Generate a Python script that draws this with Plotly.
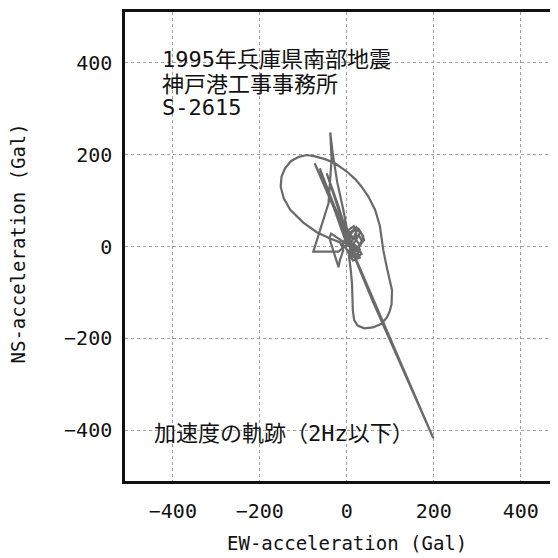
import plotly.graph_objects as go

# Trajectory of acceleration (EW, NS) in Gal
ew = [0, 12, 22, 16, 4, 10, 28, 36, 26, 34, 20, 6, 14,
      2, -8, -22, -32, -38,
      -35, -38, -42, -60, -77,
      -19, -5, 10,
      -74, 199,
      60, 25, 5, -46,
      -20, 0, 18, 30, 20,
      0, -20, -36, -40, -32, -24, -19, -16, -8,
      -15, -40, -69, -100, -130, -145, -152, -150, -142, -128, -110, -92, -73, -50,
      -27, 0, 20, 34, 50, 65, 76, 81, 84, 92, 100, 104, 103, 99, 93, 80, 60, 40,
      25, 17, 14, 13, 12, 9, 5, 8,
      20, 30, 22, 10, -2, -62, 0, 12, 24, 30, 18, 6,
      -6, 2, 18, 32, 40, 30, 16, 26, 38, 28, 10, 0, 14, 30, 22, 4, -10, 6, 20, 12]
ns = [0, 12, 28, 44, 36, 18, 24, 10, -4, -16, -26, -16, -4,
      30, 80, 140, 200, 248,
      190, 140, 94, 40, -11,
      -11, 0, 8,
      181, -417,
      -120, -40, 10, 159,
      90, 30, 18, 4, -8,
      5, 18, 28, 18, -5, -30, -45, -30, -8,
      9, 18, 31, 52, 80, 105, 130, 152, 170, 186, 195, 199, 196, 190,
      181, 163, 146, 130, 108, 80, 45, 15, -8, -45, -80, -95, -125, -140, -153, -168, -176, -178,
      -172, -160, -140, -110, -80, -50, -20, 0,
      12, 30, 42, 28, 10, 170, 15, -12, -18, -6, 4, 0,
      12, 26, 38, 32, 14, 4, 20, 40, 22, -2, -20, -8, -30, -24, -6, 14, 6, -14, -22, 2]

x_ticks = [-400, -200, 0, 200, 400]
y_ticks = [-400, -200, 0, 200, 400]

title_lines = ["1995年兵庫県南部地震", "神戸港工事事務所", "S-2615"]
title_y = [406, 352, 303]
note_text = "加速度の軌跡（2Hz以下）"
x_title = "EW-acceleration (Gal)"
y_title = "NS-acceleration (Gal)"

FONT = "DejaVu Sans Mono, Noto Sans CJK JP, sans-serif"

fig = go.Figure()
fig.add_trace(go.Scatter(x=ew, y=ns, mode="lines",
                         line=dict(color="#6a6a6a", width=2.2),
                         hoverinfo="skip", showlegend=False))

annotations = []
for txt, yy in zip(title_lines, title_y):
    annotations.append(dict(x=-429, y=yy, xref="x", yref="y", text=txt,
                            showarrow=False, xanchor="left", yanchor="middle",
                            font=dict(family=FONT, size=22, color="#111111")))
annotations.append(dict(x=-448, y=-407, xref="x", yref="y", text=note_text,
                        showarrow=False, xanchor="left", yanchor="middle",
                        font=dict(family=FONT, size=22, color="#111111")))
annotations.append(dict(x=0, y=0, xref="x", yref="paper", text=x_title,
                        showarrow=False, xanchor="center", yanchor="middle",
                        yshift=-62, font=dict(family=FONT, size=19, color="#111111")))
annotations.append(dict(x=0, y=0, xref="paper", yref="y", text=y_title,
                        showarrow=False, xanchor="center", yanchor="middle",
                        xshift=-108, yshift=3, textangle=-90,
                        font=dict(family=FONT, size=19, color="#111111")))

fig.update_layout(
    width=550, height=550,
    margin=dict(l=117, r=0, t=4, b=77),
    paper_bgcolor="white", plot_bgcolor="white",
    annotations=annotations,
    font=dict(family=FONT, size=20, color="#111111"),
)
fig.update_xaxes(range=[-510, 485.7], tickvals=x_ticks,
                 ticktext=[("−" + str(-v)) if v < 0 else str(v) for v in x_ticks],
                 showgrid=True, gridcolor="#a0a0a0", griddash="dot", gridwidth=1,
                 zeroline=False, showline=True, linecolor="#111111", linewidth=2.5,
                 mirror=True, ticks="", ticklabelstandoff=10,
                 tickfont=dict(family=FONT, size=20, color="#111111"))
fig.update_yaxes(range=[-510, 510], tickvals=y_ticks,
                 ticktext=[("−" + str(-v)) if v < 0 else str(v) for v in y_ticks],
                 showgrid=True, gridcolor="#a0a0a0", griddash="dot", gridwidth=1,
                 zeroline=False, showline=True, linecolor="#111111", linewidth=2.5,
                 mirror=False, ticks="", ticklabelstandoff=6,
                 tickfont=dict(family=FONT, size=20, color="#111111"))

fig.write_html("out.html")
